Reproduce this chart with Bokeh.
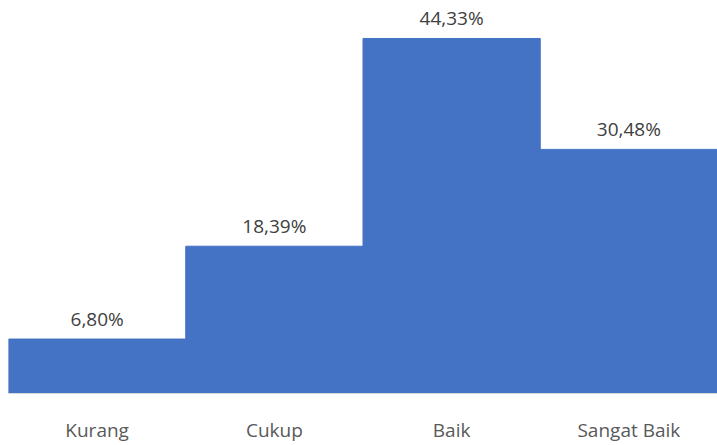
from bokeh.plotting import figure
from bokeh.models import ColumnDataSource, FactorRange, Range1d, LabelSet
from bokeh.core.properties import value
from bokeh.embed import file_html
from bokeh.resources import INLINE

categories = ["Kurang", "Cukup", "Baik", "Sangat Baik"]
values = [6.80, 18.39, 44.33, 30.48]
labels = ["6,80%", "18,39%", "44,33%", "30,48%"]

source = ColumnDataSource(dict(cat=categories, val=values, lab=labels))

p = figure(x_range=FactorRange(*categories, range_padding=0), y_range=Range1d(0, 49.07),
           width=717, height=445, output_backend="svg", toolbar_location=None,
           min_border_left=8, min_border_right=0, min_border_top=0, min_border_bottom=0)
p.vbar(x="cat", top="val", width=1.0, source=source, fill_color="#4472C4",
       line_color="#4472C4", line_width=1)

lbl = LabelSet(x="cat", y="val", text="lab", source=source, text_align="center",
               text_baseline="bottom", y_offset=7, text_font=value("Open Sans"),
               text_font_size="19px", text_color="#404040")
p.add_layout(lbl)

p.yaxis.visible = False
p.xgrid.grid_line_color = None
p.ygrid.grid_line_color = None
p.outline_line_color = None
p.xaxis.axis_line_color = "#D9D9D9"
p.xaxis.major_tick_line_color = None
p.xaxis.minor_tick_line_color = None
p.xaxis.major_label_standoff = 17
p.xaxis.major_label_text_font = "Open Sans"
p.xaxis.major_label_text_font_size = "19px"
p.xaxis.major_label_text_color = "#595959"
p.background_fill_color = "white"
p.border_fill_color = "white"

open("out.html", "w").write(file_html(p, INLINE))
